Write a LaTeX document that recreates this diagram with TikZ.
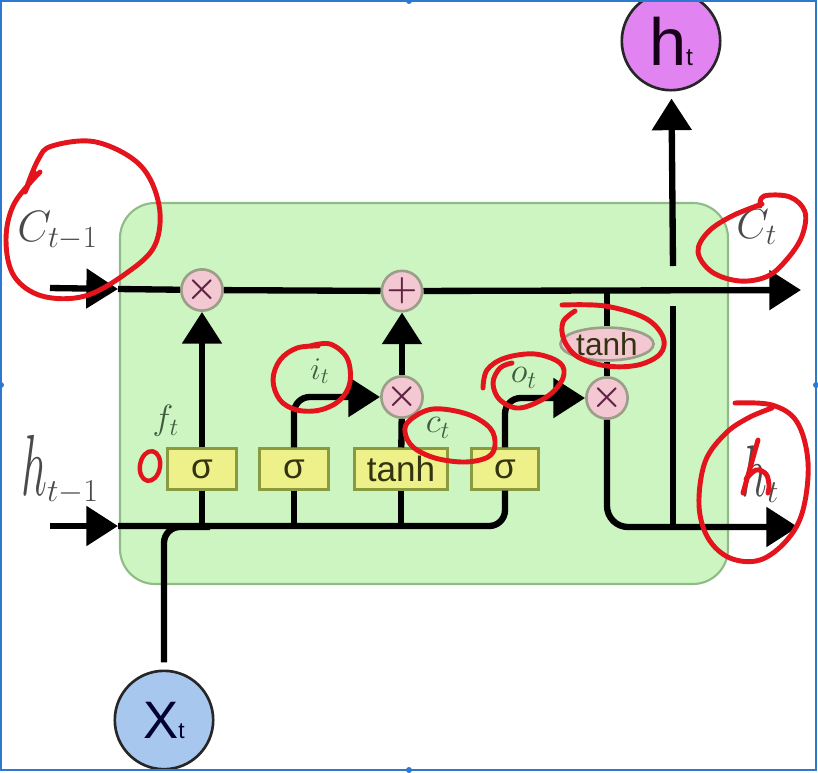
\RequirePackage{fix-cm}
\documentclass[tikz,border=0pt]{standalone}
\usepackage{fontspec}
\newfontfamily\boxfont{Liberation Sans}
\usetikzlibrary{arrows.meta,shapes.geometric}
\definecolor{CellGreen}{HTML}{CDF5C2}
\definecolor{CellEdge}{HTML}{8FBB87}
\definecolor{GateYellow}{HTML}{EEF08A}
\definecolor{GateEdge}{HTML}{8A9A3E}
\definecolor{GateText}{HTML}{33330F}
\definecolor{OpPink}{HTML}{F4C8D3}
\definecolor{OpEdge}{HTML}{9C9E8A}
\definecolor{OpText}{HTML}{5E2442}
\definecolor{InBlue}{HTML}{A7C7EE}
\definecolor{OutViolet}{HTML}{E283F2}
\definecolor{LabelGrey}{HTML}{4A4A4A}
\definecolor{LabelGreen}{HTML}{405A40}
\definecolor{MarkRed}{HTML}{E3141C}
\definecolor{FrameBlue}{HTML}{2D79D2}

\begin{document}
\begin{tikzpicture}[x=0.02cm,y=-0.02cm,
    gate/.style={
      draw=GateEdge,
      fill=GateYellow,
      line width=1.5pt,
      minimum width=39pt,
      minimum height=23pt,
      inner sep=0pt,
      text=GateText,
      font=\fontsize{20}{22}\boxfont
    },
    pointop/.style={
      circle,
      draw=OpEdge,
      fill=OpPink,
      line width=1.5pt,
      minimum size=22pt,
      inner sep=0pt,
      text=OpText,
      font=\fontsize{20}{20}\selectfont\boldmath
    },
    tanhop/.style={
      ellipse,
      draw=OpEdge,
      fill=OpPink,
      line width=1.5pt,
      minimum width=53pt,
      minimum height=16pt,
      inner sep=0pt,
      text=GateText,
      font=\fontsize{18}{18}\boxfont
    },
    io/.style={
      circle,
      draw=black!85,
      line width=1.5pt,
      minimum size=56pt,
      inner sep=0pt,
      font=\boxfont
    },
    flow/.style={
      line width=3.6pt,
      color=black
    },
    arrowflow/.style={
      flow,
      -{Triangle[length=18pt,width=22pt]}
    },
    outlabel/.style={
      text=LabelGrey,
      inner sep=0pt
    },
    inlabel/.style={
      text=LabelGreen,
      inner sep=0pt,
      font=\fontsize{20}{22}\selectfont
    },
    redmark/.style={
      draw=MarkRed,
      line width=2.8pt,
      line cap=round,
      line join=round
    }
  ]
  \clip (0,0) rectangle (818,772);

  % Cell
  \draw[draw=CellEdge,fill=CellGreen,line width=1.2pt,rounded corners=20pt]
    (120,203) rectangle (728,584);

  % Gates
  \node[gate] (sigf) at (202,469) {σ};
  \node[gate] (sigi) at (294,469) {σ};
  \node[gate,minimum width=53pt] (tanhg) at (401,469) {tanh};
  \node[gate,minimum width=38pt] (sigo) at (505,469) {σ};

  % Pointwise operations
  \node[pointop] (mulf) at (202,290) {$\times$};
  \node[pointop] (addc) at (402,291) {$+$};
  \node[pointop] (muli) at (402,397) {$\times$};
  \node[pointop] (mulo) at (607,398) {$\times$};
  \node[tanhop] (tanhc) at (607,344) {tanh};

  % Input and output
  \node[io,fill=InBlue,text=black!80!blue] (xt) at (164,720)
    {{\fontsize{30}{30}\selectfont X}{\fontsize{13}{13}\selectfont t}};
  \node[io,fill=OutViolet,text=black!80!violet] (ht) at (671,41)
    {{\fontsize{38}{38}\selectfont h}{\fontsize{14}{14}\selectfont t}};

  \coordinate (cin) at (50,288);
  \coordinate (cleft) at (118,289);
  \coordinate (cout) at (801,290);
  \coordinate (hin) at (50,526);
  \coordinate (hleft) at (118,526);
  \coordinate (hout) at (798,527);
  \coordinate (ctap) at (607,290);
  \coordinate (hup) at (673,527);
  \coordinate (hupa) at (673,306);
  \coordinate (hupb) at (673,266);

  % Cell state
  \draw[arrowflow] (cin) -- (cleft);
  \draw[arrowflow] (cleft) -- (mulf) -- (addc) -- (cout);

  % Hidden state and input
  \draw[arrowflow] (hin) -- (hleft);
  \draw[flow,rounded corners=9pt] (hleft) -| (sigo);
  \foreach \g in {sigf,sigi,tanhg}
    \draw[flow] (\g) -- (\g |- hleft);
  \draw[flow,rounded corners=9pt,shorten <=4pt] (xt) |- (210,527);

  % Gate outputs
  \draw[arrowflow] (sigf) -- (mulf);
  \draw[arrowflow,rounded corners=9pt] (sigi) |- (muli);
  \draw[flow] (tanhg) -- (muli);
  \draw[arrowflow] (muli) -- (addc);
  \draw[arrowflow,rounded corners=9pt] (sigo) |- (mulo);
  \draw[flow] (ctap) -- (tanhc);
  \draw[flow] (tanhc) -- (mulo);
  \draw[arrowflow,rounded corners=12pt] (mulo) |- (hout);
  \draw[flow] (hup) -- (hupa);
  \draw[arrowflow,shorten >=4pt] (hupb) -- (ht);

  % Labels
  \node[outlabel,anchor=base west,font=\fontsize{25}{27}\selectfont]
    (lblcprev) at (17,241) {$C_{t-1}$};
  \node[outlabel,anchor=base west,font=\fontsize{26}{28}\selectfont]
    (lblhprev) at (21,495) {$\scalebox{1}[1.9]{$h$}_{t-1}$};
  \node[outlabel,anchor=base west,font=\fontsize{24}{26}\selectfont]
    (lblct) at (736,238) {$C_t$};
  \node[outlabel,anchor=base west,font=\fontsize{26}{28}\selectfont]
    (lblht) at (741,496) {$\scalebox{1}[1.6]{$h$}_t$};
  \node[inlabel] (lblf) at (166,421) {$f_t$};
  \node[inlabel,font=\fontsize{18}{20}\selectfont] (lbli) at (320,371) {$i_t$};
  \node[inlabel] (lblc) at (438,428) {$c_t$};
  \node[inlabel] (lblo) at (524,378) {$o_t$};

  % Red marks
  \draw[redmark] plot[smooth,tension=0.6] coordinates {(34,172) (25,192)
    (38,160) (52,146) (96,142) (140,165) (159,205) (155,245) (128,272)
    (85,296) (42,296) (14,276) (6,240) (14,204) (40,172)};
  \draw[redmark] plot[smooth,tension=0.6] coordinates {(760,206) (764,196)
    (790,197) (805,212) (802,236) (788,258) (768,276) (740,281) (712,272)
    (698,252) (708,232) (732,216) (762,204)};
  \draw[redmark] plot[smooth,tension=0.6] coordinates {(562,305) (605,306)
    (645,318) (663,337) (660,354) (638,365) (607,366) (578,357) (564,340)
    (563,322) (575,311)};
  \draw[redmark] plot[smooth,tension=0.6] coordinates {(483,388) (487,370)
    (505,358) (535,354) (560,363) (563,378) (548,396) (520,408) (500,400)
    (493,383) (500,368) (512,363)};
  \draw[redmark] plot[smooth,tension=0.6] coordinates {(310,346) (330,344)
    (347,358) (350,382) (340,400) (320,410) (297,410) (280,400) (273,380)
    (280,360) (297,348) (318,346)};
  \draw[redmark] plot[smooth cycle,tension=0.6] coordinates {(410,420)
    (433,409) (467,414) (490,428) (495,445) (488,457) (465,462) (435,458)
    (413,447) (405,432)};
  \draw[redmark] plot[smooth,tension=0.6] coordinates {(735,403) (772,405)
    (797,422) (808,462) (803,510) (787,540) (760,560) (730,558) (708,538)
    (699,505) (705,462) (725,434) (748,418) (772,408)};
  \draw[redmark] (758,440) -- (743,493);
  \draw[redmark] plot[smooth,tension=0.6] coordinates {(746,479) (756,470)
    (766,474) (769,485) (768,493)};
  \draw[redmark,line width=2.5pt,rotate around={-10:(150,466)}]
    (150,466) ellipse [x radius=10,y radius=15];

  % Frame
  \draw[FrameBlue,line width=1.2pt] (1,1) rectangle (816,770);
  \foreach \p in {(409,1),(1,385),(816,385),(409,770)}
    \fill[FrameBlue] \p circle [radius=3];
\end{tikzpicture}
\end{document}
